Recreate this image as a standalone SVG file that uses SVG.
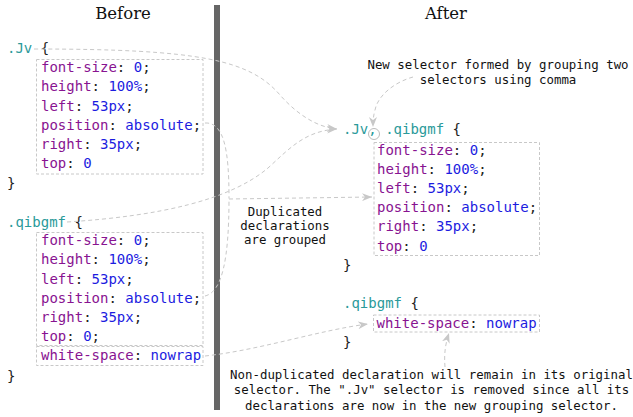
<svg xmlns="http://www.w3.org/2000/svg" width="633" height="417" viewBox="0 0 633 417">
<style>
.title{font-family:"DejaVu Serif",serif;font-size:16.5px;fill:#111;text-anchor:middle}
.code{font-family:"DejaVu Sans Mono","Liberation Mono",monospace;font-size:14px;fill:#222}
.sel{fill:#2a9a9a}
.prop{fill:#881391}
.val{fill:#1c1cdf}
.note{font-family:"DejaVu Sans Mono","Liberation Mono",monospace;font-size:12.4px;fill:#111;text-anchor:middle}
.box{fill:none;stroke:#c8c8c8;stroke-width:1;stroke-dasharray:3,2}
.con{fill:none;stroke:#c8c8c8;stroke-width:1;stroke-dasharray:4,3}
</style>
<defs>
<marker id="ah" viewBox="0 0 10 8" refX="10" refY="4" markerWidth="10" markerHeight="8" orient="auto" markerUnits="userSpaceOnUse">
<path d="M0,0 L10,4 L0,8 L3,4 z" fill="#c8c8c8"/>
</marker>
</defs>
<rect width="633" height="417" fill="#fff"/>
<text class="title" x="123" y="19">Before</text>
<text class="title" x="446" y="19">After</text>
<rect id="divider" x="214" y="5" width="6" height="405" fill="#666"/>

<g id="before-jv">
<text class="code" x="7" y="53"><tspan class="sel">.Jv</tspan> {</text>
<rect class="box" x="36.5" y="59.5" width="166.5" height="114.5"/>
<text class="code" x="41" y="72"><tspan class="prop">font-size</tspan>: <tspan class="val">0</tspan>;</text>
<text class="code" x="41" y="91"><tspan class="prop">height</tspan>: <tspan class="val">100%</tspan>;</text>
<text class="code" x="41" y="110.5"><tspan class="prop">left</tspan>: <tspan class="val">53px</tspan>;</text>
<text class="code" x="41" y="129.5"><tspan class="prop">position</tspan>: <tspan class="val">absolute</tspan>;</text>
<text class="code" x="41" y="148.5"><tspan class="prop">right</tspan>: <tspan class="val">35px</tspan>;</text>
<text class="code" x="41" y="167.5"><tspan class="prop">top</tspan>: <tspan class="val">0</tspan></text>
<text class="code" x="7" y="187.5">}</text>
</g>

<g id="before-qibgmf">
<text class="code" x="7" y="227"><tspan class="sel">.qibgmf</tspan> {</text>
<rect class="box" x="36.5" y="232.5" width="166.5" height="113"/>
<rect class="box" x="36.5" y="346.5" width="166.5" height="19"/>
<text class="code" x="41" y="245"><tspan class="prop">font-size</tspan>: <tspan class="val">0</tspan>;</text>
<text class="code" x="41" y="264"><tspan class="prop">height</tspan>: <tspan class="val">100%</tspan>;</text>
<text class="code" x="41" y="283.5"><tspan class="prop">left</tspan>: <tspan class="val">53px</tspan>;</text>
<text class="code" x="41" y="302.5"><tspan class="prop">position</tspan>: <tspan class="val">absolute</tspan>;</text>
<text class="code" x="41" y="321.5"><tspan class="prop">right</tspan>: <tspan class="val">35px</tspan>;</text>
<text class="code" x="41" y="341"><tspan class="prop">top</tspan>: <tspan class="val">0</tspan>;</text>
<text class="code" x="41" y="360"><tspan class="prop">white-space</tspan>: <tspan class="val">nowrap</tspan></text>
<text class="code" x="7" y="381">}</text>
</g>

<g id="after-grouped">
<text class="code" x="343" y="134"><tspan class="sel">.Jv, .qibgmf</tspan> {</text>
<circle cx="374" cy="134" r="5.5" fill="none" stroke="#aaa" stroke-width="0.8"/>
<rect class="box" x="374" y="142.5" width="165.5" height="113"/>
<text class="code" x="377" y="155"><tspan class="prop">font-size</tspan>: <tspan class="val">0</tspan>;</text>
<text class="code" x="377" y="174"><tspan class="prop">height</tspan>: <tspan class="val">100%</tspan>;</text>
<text class="code" x="377" y="193"><tspan class="prop">left</tspan>: <tspan class="val">53px</tspan>;</text>
<text class="code" x="377" y="212"><tspan class="prop">position</tspan>: <tspan class="val">absolute</tspan>;</text>
<text class="code" x="377" y="231"><tspan class="prop">right</tspan>: <tspan class="val">35px</tspan>;</text>
<text class="code" x="377" y="250.5"><tspan class="prop">top</tspan>: <tspan class="val">0</tspan></text>
<text class="code" x="343" y="269.5">}</text>
</g>

<g id="after-qibgmf">
<text class="code" x="343" y="308"><tspan class="sel">.qibgmf</tspan> {</text>
<rect class="box" x="373.5" y="315" width="166" height="17"/>
<text class="code" x="376.5" y="327.5"><tspan class="prop">white-space</tspan>: <tspan class="val">nowrap</tspan></text>
<text class="code" x="343" y="347">}</text>
</g>

<g id="note-selector">
<text class="note" x="498" y="68.5">New selector formed by grouping two</text>
<text class="note" x="498" y="83.5">selectors using comma</text>
</g>
<g id="note-duplicated">
<text class="note" x="285" y="215.5">Duplicated</text>
<text class="note" x="285" y="229.5">declarations</text>
<text class="note" x="285" y="243.5">are grouped</text>
</g>
<g id="note-nondup">
<text class="note" x="431.5" y="378.5">Non-duplicated declaration will remain in its original</text>
<text class="note" x="431.5" y="394">selector. The ".Jv" selector is removed since all its</text>
<text class="note" x="431.5" y="409.5">declarations are now in the new grouping selector.</text>
</g>

<g id="connectors">
<path class="con" d="M34 49 C200 49 250 60 280 95 C295 112 315 127 337 129" marker-end="url(#ah)"/>
<path class="con" d="M67 222 C160 216 230 200 268 168 C290 148 305 131 337 129" marker-end="url(#ah)"/>
<path class="con" d="M205 123 C224 122 229 150 229 198"/>
<path class="con" d="M205 296 C222 292 229 260 229 198"/>
<path class="con" d="M229 199 L372 197" marker-end="url(#ah)"/>
<path class="con" d="M205 356 C260 350 320 330 368 324" marker-end="url(#ah)"/>
<path class="con" d="M445 367 C444 355 445 345 449 333" marker-end="url(#ah)"/>
<path class="con" d="M413 77 C395 82 378 95 375 110 C373 117 373 122 373 127" marker-end="url(#ah)"/>
</g>
</svg>
